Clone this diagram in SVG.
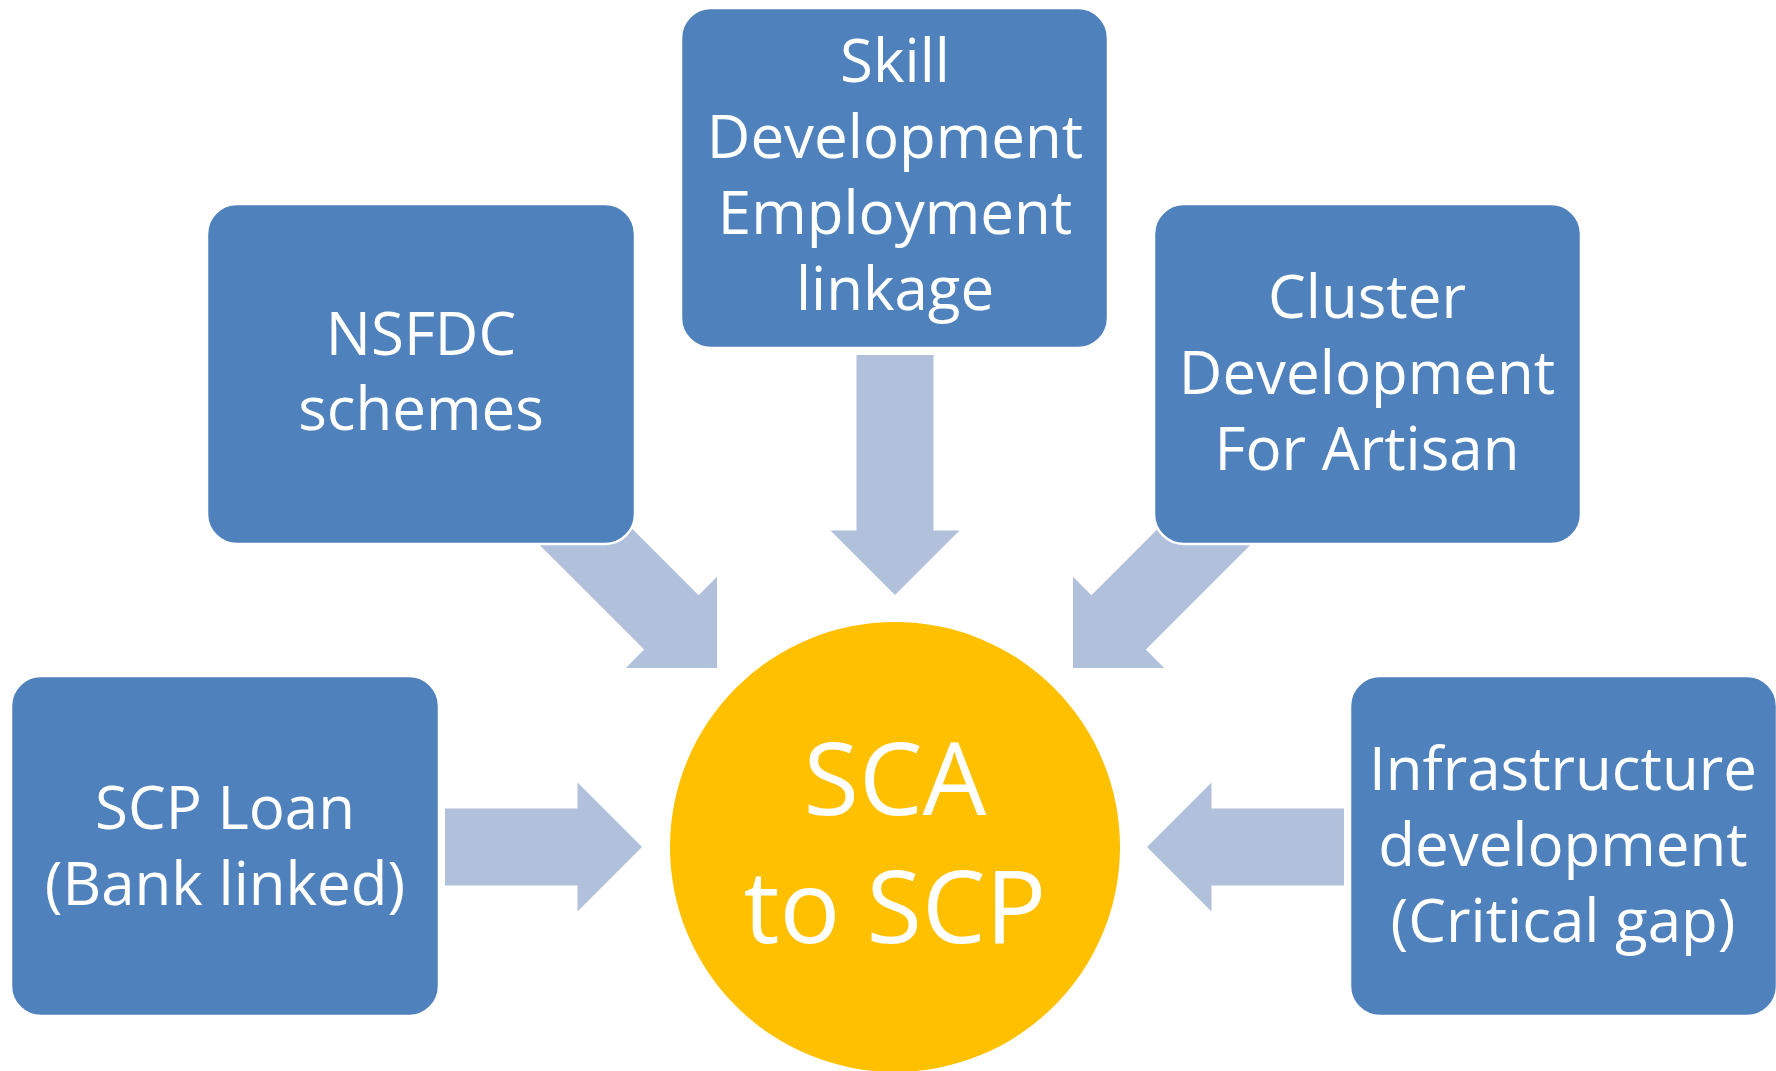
<svg xmlns="http://www.w3.org/2000/svg" width="1776" height="1071" viewBox="0 0 1776 1071">
<style>
.box{fill:#4F81BD;stroke:#FFFFFF;stroke-width:2.5}
.arr{fill:#B1C1DC}
.t{font-family:"Open Sans","Liberation Sans",sans-serif;font-size:60px;fill:#FFFFFF;text-anchor:middle}
.c{font-family:"Open Sans","Liberation Sans",sans-serif;font-size:101px;fill:#FFFFFF;text-anchor:middle}
</style>
<rect width="1776" height="1071" fill="#FFFFFF"/>
<g id="connectors">
<polygon class="arr" points="-240,-38.5 -64.5,-38.5 -64.5,-64.5 0,0 -64.5,64.5 -64.5,38.5 -240,38.5" transform="translate(895,595) rotate(90)"/>
<polygon class="arr" points="-212,-38.5 -64.5,-38.5 -64.5,-64.5 0,0 -64.5,64.5 -64.5,38.5 -212,38.5" transform="translate(717,668) rotate(45)"/>
<polygon class="arr" points="-212,-38.5 -64.5,-38.5 -64.5,-64.5 0,0 -64.5,64.5 -64.5,38.5 -212,38.5" transform="translate(1073,668) rotate(135)"/>
<polygon class="arr" points="-197,-38.5 -64.5,-38.5 -64.5,-64.5 0,0 -64.5,64.5 -64.5,38.5 -197,38.5" transform="translate(642,847)"/>
<polygon class="arr" points="-197,-38.5 -64.5,-38.5 -64.5,-64.5 0,0 -64.5,64.5 -64.5,38.5 -197,38.5" transform="translate(1147,847) rotate(180)"/>
</g>
<g id="center">
<circle cx="895" cy="847" r="225" fill="#FFC000"/>
<text class="c" x="895" y="815">SCA</text>
<text class="c" x="895" y="943">to SCP</text>
</g>
<g id="skill">
<rect class="box" x="681" y="8" width="427" height="340" rx="30" ry="30"/>
<text class="t" x="895" y="82">Skill</text>
<text class="t" x="895" y="158">Development</text>
<text class="t" x="895" y="234">Employment</text>
<text class="t" x="895" y="310">linkage</text>
</g>
<g id="nsfdc">
<rect class="box" x="207" y="204" width="428" height="340" rx="30" ry="30"/>
<text class="t" x="421" y="355">NSFDC</text>
<text class="t" x="421" y="430">schemes</text>
</g>
<g id="cluster">
<rect class="box" x="1154" y="204" width="427" height="340" rx="30" ry="30"/>
<text class="t" x="1367" y="318">Cluster</text>
<text class="t" x="1367" y="394">Development</text>
<text class="t" x="1367" y="470">For Artisan</text>
</g>
<g id="scploan">
<rect class="box" x="11" y="676" width="428" height="340" rx="30" ry="30"/>
<text class="t" x="225" y="829">SCP Loan</text>
<text class="t" x="225" y="905">(Bank linked)</text>
</g>
<g id="infra">
<rect class="box" x="1350" y="676" width="427" height="340" rx="30" ry="30"/>
<text class="t" x="1563" y="790">Infrastructure</text>
<text class="t" x="1563" y="866">development</text>
<text class="t" x="1563" y="942">(Critical gap)</text>
</g>
</svg>
